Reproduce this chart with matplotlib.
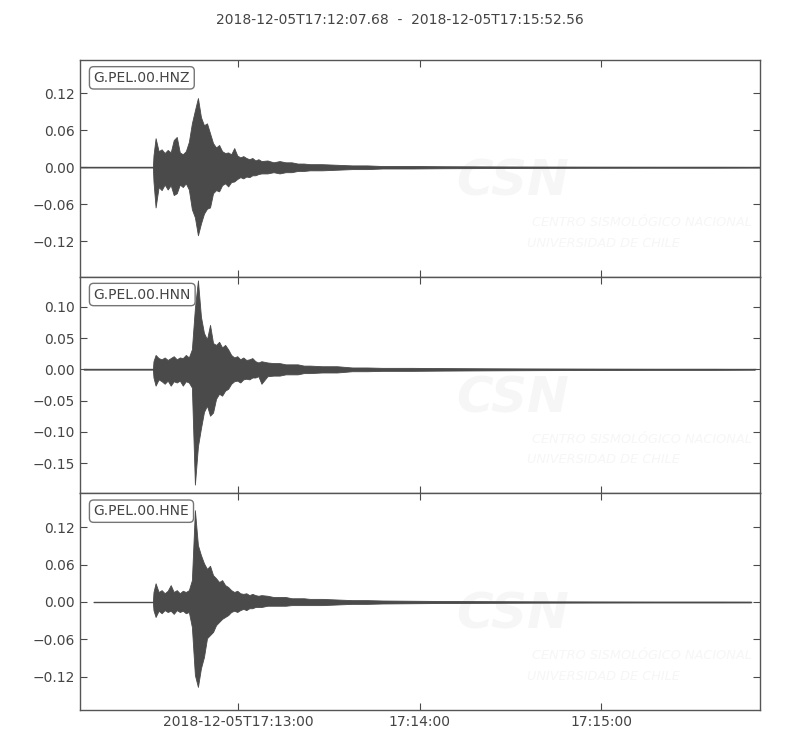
import numpy as np
import matplotlib
matplotlib.use("Agg")
import matplotlib.pyplot as plt
from matplotlib.ticker import FixedLocator, FuncFormatter

# seismogram envelopes (max / min per time bin)
# time in seconds after 2018-12-05T17:12:07.68
title = "2018-12-05T17:12:07.68  -  2018-12-05T17:15:52.56"
duration = 224.88
channels = ["G.PEL.00.HNZ", "G.PEL.00.HNN", "G.PEL.00.HNE"]
trace_start = [0.0, 1.2, 4.5]
trace_end = [224.88, 223.1, 221.8]
onset = 24.1  # quiet before this

t_env = [24.3] + list(range(25, 61)) + [62, 64, 66, 68, 70, 72, 74, 76,
         80, 85, 90, 95, 100, 110, 120, 135, 150, 170, 190, 210]

up_z = [0.019, 0.047, 0.026, 0.029, 0.023, 0.028, 0.024, 0.044, 0.049, 0.024,
        0.021, 0.026, 0.041, 0.071, 0.092, 0.112, 0.081, 0.068, 0.071, 0.055,
        0.039, 0.032, 0.036, 0.026, 0.023, 0.024, 0.021, 0.031, 0.019, 0.016,
        0.018, 0.015, 0.013, 0.015, 0.011, 0.013, 0.010, 0.011, 0.008, 0.010,
        0.008, 0.008, 0.006, 0.006, 0.005, 0.005, 0.004, 0.003, 0.003, 0.002,
        0.002, 0.0016, 0.0013, 0.001, 0.0008, 0.0007, 0.0007]
lo_z = [-0.023, -0.065, -0.032, -0.037, -0.028, -0.036, -0.029, -0.045, -0.042, -0.028,
        -0.032, -0.026, -0.036, -0.068, -0.081, -0.110, -0.091, -0.075, -0.067, -0.065,
        -0.042, -0.037, -0.039, -0.029, -0.026, -0.031, -0.024, -0.023, -0.019, -0.016,
        -0.018, -0.015, -0.016, -0.013, -0.013, -0.011, -0.010, -0.010, -0.008, -0.010,
        -0.008, -0.008, -0.006, -0.006, -0.005, -0.005, -0.004, -0.003, -0.003, -0.002,
        -0.002, -0.0016, -0.0013, -0.001, -0.0008, -0.0007, -0.0007]

up_n = [0.013, 0.023, 0.018, 0.016, 0.019, 0.015, 0.018, 0.021, 0.016, 0.019,
        0.018, 0.023, 0.019, 0.032, 0.098, 0.142, 0.084, 0.058, 0.048, 0.071,
        0.042, 0.039, 0.044, 0.035, 0.039, 0.032, 0.023, 0.019, 0.021, 0.016,
        0.019, 0.015, 0.016, 0.018, 0.013, 0.011, 0.013, 0.011, 0.010, 0.010,
        0.008, 0.008, 0.008, 0.006, 0.006, 0.005, 0.005, 0.003, 0.003, 0.0024,
        0.0024, 0.002, 0.0016, 0.0013, 0.001, 0.0008, 0.0008]
lo_n = [-0.013, -0.026, -0.016, -0.019, -0.023, -0.018, -0.026, -0.019, -0.021, -0.018,
        -0.026, -0.019, -0.021, -0.029, -0.184, -0.123, -0.094, -0.068, -0.058, -0.074,
        -0.069, -0.047, -0.039, -0.042, -0.034, -0.031, -0.023, -0.019, -0.018, -0.021,
        -0.016, -0.015, -0.016, -0.013, -0.013, -0.011, -0.023, -0.011, -0.010, -0.010,
        -0.008, -0.008, -0.008, -0.006, -0.006, -0.005, -0.005, -0.003, -0.003, -0.0024,
        -0.0024, -0.002, -0.0016, -0.0013, -0.001, -0.0008, -0.0008]

up_e = [0.016, 0.030, 0.016, 0.019, 0.014, 0.018, 0.027, 0.016, 0.019, 0.014,
        0.018, 0.016, 0.019, 0.035, 0.147, 0.091, 0.075, 0.062, 0.053, 0.058,
        0.043, 0.038, 0.032, 0.035, 0.027, 0.024, 0.019, 0.016, 0.018, 0.014,
        0.013, 0.014, 0.011, 0.013, 0.011, 0.010, 0.011, 0.010, 0.008, 0.008,
        0.008, 0.006, 0.006, 0.006, 0.005, 0.005, 0.004, 0.003, 0.003, 0.0024,
        0.002, 0.0016, 0.0013, 0.001, 0.0008, 0.0006, 0.0006]
lo_e = [-0.013, -0.024, -0.014, -0.018, -0.013, -0.016, -0.014, -0.019, -0.013, -0.016,
        -0.014, -0.018, -0.016, -0.040, -0.117, -0.136, -0.106, -0.088, -0.058, -0.053,
        -0.048, -0.037, -0.032, -0.027, -0.024, -0.021, -0.016, -0.014, -0.016, -0.013,
        -0.011, -0.013, -0.010, -0.010, -0.008, -0.008, -0.008, -0.006, -0.006, -0.006,
        -0.006, -0.005, -0.005, -0.005, -0.005, -0.005, -0.004, -0.003, -0.003, -0.0024,
        -0.002, -0.0016, -0.0013, -0.001, -0.0008, -0.0006, -0.0006]

uppers = [up_z, up_n, up_e]
lowers = [lo_z, lo_n, lo_e]
ylims = [(-0.177, 0.1735), (-0.198, 0.148), (-0.173, 0.174)]
yticks = [[-0.12, -0.06, 0.0, 0.06, 0.12],
          [-0.15, -0.10, -0.05, 0.0, 0.05, 0.10],
          [-0.12, -0.06, 0.0, 0.06, 0.12]]

xtick_pos = [52.32, 112.32, 172.32]
xtick_labels = ["2018-12-05T17:13:00", "17:14:00", "17:15:00"]

col = "#4a4a4a"
txtcol = "#444444"
wm = "#f6f6f6"

def yformat(v, pos):
    return ("%.2f" % v).replace("-", "\u2212")

fig = plt.figure(figsize=(8, 7.5), dpi=100)
fig.text(0.5, 0.973, title, ha="center", va="center", fontsize=10, color=txtcol)

left, right = 0.1, 0.95
top, bottom = 0.92, 0.0533
h = (top - bottom) / 3

for i in range(3):
    ax = fig.add_axes([left, top - (i + 1) * h, right - left, h])
    t = [trace_start[i], onset] + t_env + [trace_end[i]]
    up = [0.0, 0.0] + uppers[i] + [0.0005]
    lo = [0.0, 0.0] + lowers[i] + [-0.0005]
    ax.fill_between(t, lo, up, color=col, lw=0.6, edgecolor=col)
    ax.plot([trace_start[i], trace_end[i]], [0, 0], color=col, lw=1.0)

    # faint watermark
    ax.text(0.553, 0.44, "CSN", transform=ax.transAxes, fontsize=36,
            fontweight="bold", style="italic", color=wm, ha="left",
            va="center", zorder=0, clip_on=True)
    ax.text(0.664, 0.25, "CENTRO SISMOLÓGICO NACIONAL", transform=ax.transAxes,
            fontsize=9.3, style="italic", color=wm, ha="left", va="center",
            zorder=0, clip_on=True)
    ax.text(0.658, 0.155, "UNIVERSIDAD DE CHILE", transform=ax.transAxes,
            fontsize=9.3, style="italic", color=wm, ha="left", va="center",
            zorder=0, clip_on=True)

    ax.text(0.02, 0.95, channels[i], transform=ax.transAxes, va="top", ha="left",
            fontsize=10, color=txtcol,
            bbox=dict(boxstyle="round", fc="w", ec="#666666", alpha=0.9))

    ax.set_xlim(0, duration)
    ax.set_ylim(*ylims[i])
    ax.yaxis.set_major_locator(FixedLocator(yticks[i]))
    ax.yaxis.set_major_formatter(FuncFormatter(yformat))
    ax.set_xticks(xtick_pos)
    if i == 2:
        ax.set_xticklabels(xtick_labels)
    else:
        ax.set_xticklabels([])
    ax.tick_params(direction="in", top=True, right=True, length=5,
                   labelsize=10, colors=col, labelcolor=txtcol)
    for s in ax.spines.values():
        s.set_color("#555555")
        s.set_linewidth(1.0)

fig.savefig("out.png", dpi=100)
